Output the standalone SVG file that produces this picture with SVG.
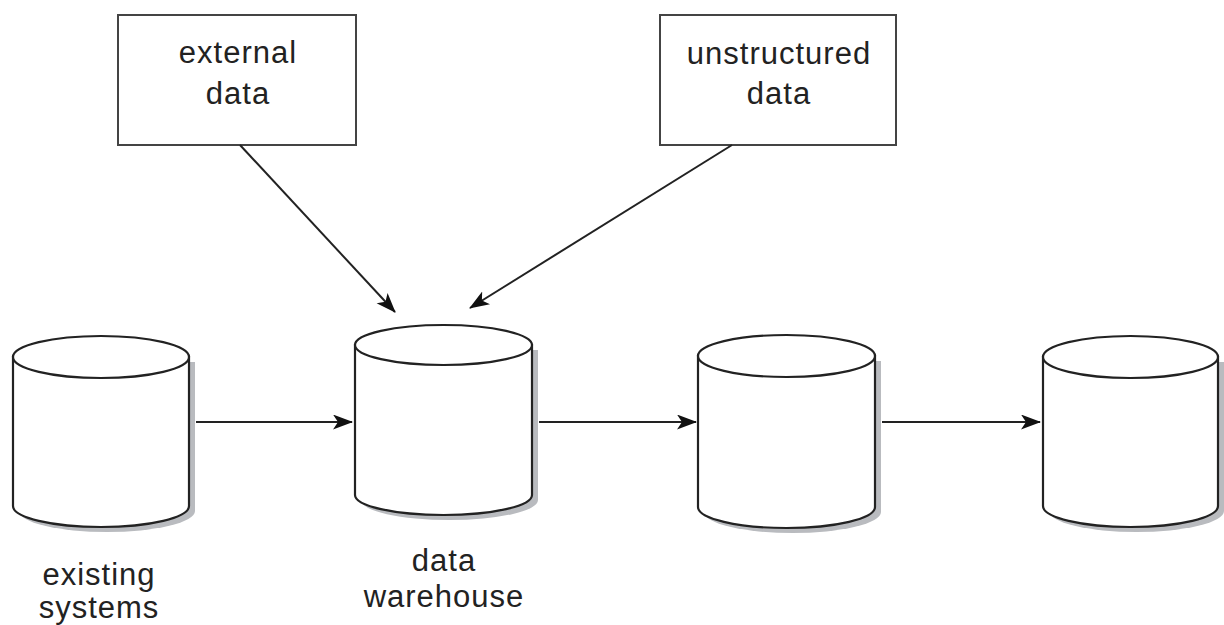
<svg xmlns="http://www.w3.org/2000/svg" width="1224" height="625" viewBox="0 0 1224 625">
<style>
.box{fill:#fff;stroke:#444;stroke-width:2}
.cyl{fill:#fff;stroke:#222;stroke-width:2.2}
.shadow{fill:#b9bbbf;stroke:none}
.conn{fill:none;stroke:#222;stroke-width:2}
text{font-family:"Liberation Sans",Arial,sans-serif;font-size:31px;fill:#222;text-anchor:middle;letter-spacing:1px}
</style>
<defs>
<marker id="ah" markerUnits="userSpaceOnUse" markerWidth="22" markerHeight="16" refX="19" refY="7.5" orient="auto">
<path d="M0,0 L20,7.5 L0,15 L5,7.5 Z" fill="#111"/>
</marker>
</defs>

<g id="external">
<rect class="box" x="118" y="15" width="238" height="130"/>
<text x="238" y="63">external</text>
<text x="238" y="104">data</text>
</g>

<g id="unstructured">
<rect class="box" x="660" y="15" width="236" height="130"/>
<text x="779" y="64">unstructured</text>
<text x="779" y="104">data</text>
</g>

<g id="existing">
<path class="shadow" d="M19,362 L19,511 A88 21 0 0 0 195,511 L195,362 Z"/>
<path class="cyl" d="M13,357 L13,506 A88 21 0 0 0 189,506 L189,357 Z"/>
<ellipse class="cyl" cx="101" cy="357" rx="88" ry="21"/>
<text x="99" y="585">existing</text>
<text x="99" y="618">systems</text>
</g>

<g id="warehouse">
<path class="shadow" d="M361,350 L361,500 A88.5 20 0 0 0 538,500 L538,350 Z"/>
<path class="cyl" d="M355,345 L355,495 A88.5 20 0 0 0 532,495 L532,345 Z"/>
<ellipse class="cyl" cx="443.5" cy="345" rx="88.5" ry="20"/>
<text x="444" y="571">data</text>
<text x="444" y="607">warehouse</text>
</g>

<g id="cyl3">
<path class="shadow" d="M704,361 L704,512 A88.5 21 0 0 0 881,512 L881,361 Z"/>
<path class="cyl" d="M698,356 L698,507 A88.5 21 0 0 0 875,507 L875,356 Z"/>
<ellipse class="cyl" cx="786.5" cy="356" rx="88.5" ry="21"/>
</g>

<g id="cyl4">
<path class="shadow" d="M1049,362 L1049,511 A87.5 21 0 0 0 1224,511 L1224,362 Z"/>
<path class="cyl" d="M1043,357 L1043,506 A87.5 21 0 0 0 1218,506 L1218,357 Z"/>
<ellipse class="cyl" cx="1130.5" cy="357" rx="87.5" ry="21"/>
</g>

<g id="connectors">
<line class="conn" x1="240" y1="145" x2="395" y2="312" marker-end="url(#ah)"/>
<line class="conn" x1="732" y1="145" x2="470" y2="308" marker-end="url(#ah)"/>
<line class="conn" x1="196" y1="422" x2="352" y2="422" marker-end="url(#ah)"/>
<line class="conn" x1="539" y1="422" x2="696" y2="422" marker-end="url(#ah)"/>
<line class="conn" x1="882" y1="422" x2="1040" y2="422" marker-end="url(#ah)"/>
</g>
</svg>
